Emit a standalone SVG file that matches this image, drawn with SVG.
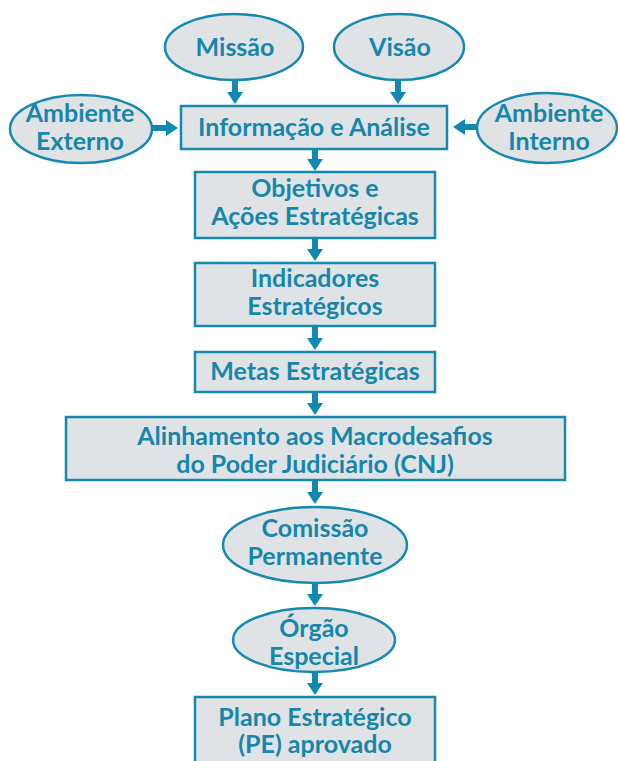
<svg xmlns="http://www.w3.org/2000/svg" width="618" height="761" viewBox="0 0 618 761">
<defs>
<style>
.n{fill:#DFE3E5;stroke:#1689B0;stroke-width:2.5}
.t{font-family:Lato,"Open Sans",sans-serif;font-weight:bold;font-size:25px;fill:#1786AB;text-anchor:middle}
.c{stroke:#0F88B2;stroke-width:6;fill:none;marker-end:url(#ah)}
</style>
<marker id="ah" markerUnits="userSpaceOnUse" markerWidth="12" markerHeight="18" refX="1" refY="9" orient="auto">
<path d="M0,1 L12,9 L0,17 Z" fill="#0F88B2"/>
</marker>
</defs>
<rect width="618" height="761" fill="#fff"/>
<g id="connectors">
<line class="c" x1="235" y1="80" x2="235" y2="93"/>
<line class="c" x1="398" y1="80" x2="398" y2="93"/>
<line class="c" x1="152" y1="128" x2="167" y2="128"/>
<line class="c" x1="479" y1="127" x2="464" y2="127"/>
<line class="c" x1="315" y1="149" x2="315" y2="160"/>
<line class="c" x1="315" y1="239" x2="315" y2="250"/>
<line class="c" x1="315" y1="327" x2="315" y2="339"/>
<line class="c" x1="315" y1="393" x2="315" y2="404"/>
<line class="c" x1="315" y1="481" x2="315" y2="493"/>
<line class="c" x1="315" y1="584" x2="315" y2="595"/>
<line class="c" x1="315" y1="673" x2="315" y2="684"/>
</g>
<g id="missao"><ellipse class="n" cx="234" cy="47" rx="69" ry="33"/><text class="t" x="235" y="56">Missão</text></g>
<g id="visao"><ellipse class="n" cx="399" cy="47" rx="65" ry="33"/><text class="t" x="400" y="56">Visão</text></g>
<g id="ambiente-externo"><ellipse class="n" cx="81" cy="129" rx="71" ry="34"/><text class="t" x="80" y="122">Ambiente</text><text class="t" x="80" y="150">Externo</text></g>
<g id="ambiente-interno"><ellipse class="n" cx="547" cy="128" rx="70" ry="35"/><text class="t" x="549" y="122">Ambiente</text><text class="t" x="549" y="150">Interno</text></g>
<g id="informacao"><rect class="n" x="181" y="106" width="266" height="43"/><text class="t" x="314" y="136">Informação e Análise</text></g>
<g id="objetivos"><rect class="n" x="195" y="172" width="240" height="66"/><text class="t" x="315" y="197">Objetivos e</text><text class="t" x="315" y="225">Ações Estratégicas</text></g>
<g id="indicadores"><rect class="n" x="195" y="263" width="240" height="63"/><text class="t" x="315" y="287">Indicadores</text><text class="t" x="315" y="315">Estratégicos</text></g>
<g id="metas"><rect class="n" x="195" y="352" width="240" height="40"/><text class="t" x="315" y="380">Metas Estratégicas</text></g>
<g id="alinhamento"><rect class="n" x="66" y="417" width="499" height="63"/><text class="t" x="315" y="445">Alinhamento aos Macrodesafios</text><text class="t" x="315" y="473">do Poder Judiciário (CNJ)</text></g>
<g id="comissao"><ellipse class="n" cx="315" cy="545" rx="92" ry="38"/><text class="t" x="315" y="537">Comissão</text><text class="t" x="315" y="565">Permanente</text></g>
<g id="orgao"><ellipse class="n" cx="314" cy="640" rx="81" ry="32"/><text class="t" x="314" y="637">Órgão</text><text class="t" x="314" y="665">Especial</text></g>
<g id="plano"><rect class="n" x="195" y="697" width="240" height="80"/><text class="t" x="315" y="726">Plano Estratégico</text><text class="t" x="315" y="753">(PE) aprovado</text></g>
</svg>
